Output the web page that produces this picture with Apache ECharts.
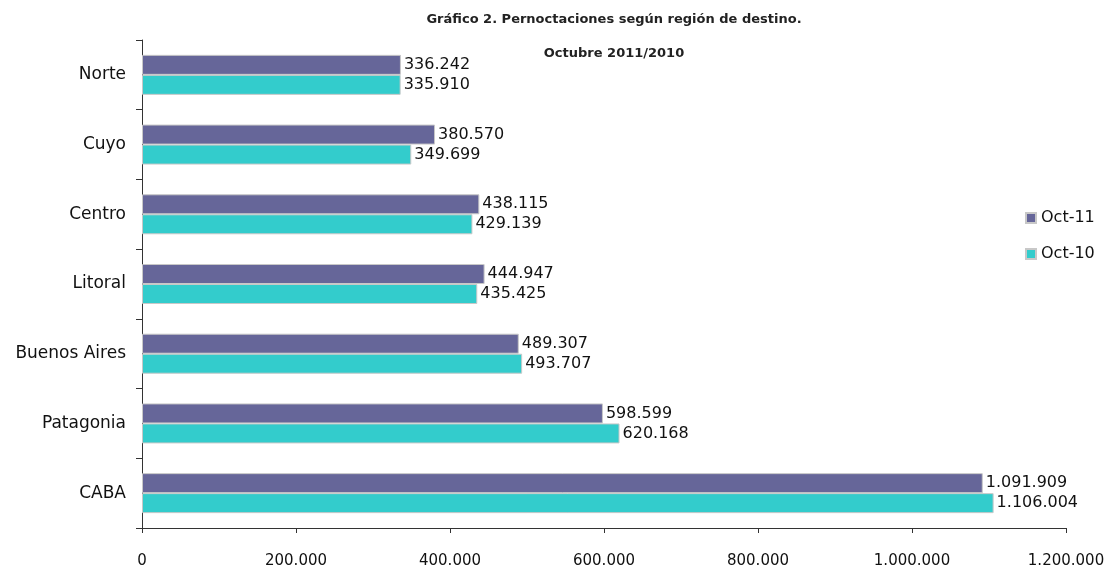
<!DOCTYPE html>
<html>
<head>
<meta charset="utf-8">
<script src="https://cdn.jsdelivr.net/npm/echarts@6/dist/echarts.min.js"></script>
<style>
  html, body { margin: 0; padding: 0; background: #fff; }
  #chart { width: 1109px; height: 574px; }
</style>
</head>
<body>
<div id="chart"></div>
<script>
// regiones, de abajo hacia arriba
const regiones = ['CABA', 'Patagonia', 'Buenos Aires', 'Litoral', 'Centro', 'Cuyo', 'Norte']
const oct11 = [1091909, 598599, 489307, 444947, 438115, 380570, 336242]
const oct10 = [1106004, 620168, 493707, 435425, 429139, 349699, 335910]
const xTicks = [0, 200000, 400000, 600000, 800000, 1000000, 1200000]

// separador de miles con punto
function fmt(v) {
  return String(v).replace(/\B(?=(\d{3})+(?!\d))/g, '.')
}

const chart = echarts.init(document.getElementById('chart'))
const font = 'DejaVu Sans'

const option = {
  animation: false,
  textStyle: { fontFamily: font },
  title: [
    {
      text: 'Gráfico 2. Pernoctaciones según región de destino.',
      left: 609, top: 8, textAlign: 'center',
      textStyle: { fontSize: 13, fontWeight: 'bold', color: '#222', fontFamily: font }
    },
    {
      text: 'Octubre 2011/2010',
      left: 609, top: 42, textAlign: 'center',
      textStyle: { fontSize: 13, fontWeight: 'bold', color: '#222', fontFamily: font }
    }
  ],
  legend: {
    data: ['Oct-11', 'Oct-10'],
    orient: 'vertical',
    left: 1020, top: 205,
    itemWidth: 10, itemHeight: 10, itemGap: 20,
    textStyle: { fontSize: 16, color: '#111', fontFamily: font },
    icon: 'rect'
  },
  grid: { left: 142, right: 43, top: 40, bottom: 46 },
  xAxis: {
    type: 'value',
    min: 0, max: 1200000, interval: 200000,
    axisLine: { show: true, lineStyle: { color: '#333' } },
    axisTick: { show: true, length: 5, lineStyle: { color: '#333' } },
    splitLine: { show: false },
    axisLabel: {
      margin: 26, fontSize: 15, color: '#111', fontFamily: font,
      formatter: v => xTicks.includes(v) ? fmt(v) : ''
    }
  },
  yAxis: {
    type: 'category',
    data: regiones,
    axisLine: { show: true, lineStyle: { color: '#333' } },
    axisTick: { show: true, length: 6, lineStyle: { color: '#333' } },
    axisLabel: { margin: 16, fontSize: 17, color: '#111', fontFamily: font }
  },
  series: [
    {
      name: 'Oct-11',
      type: 'bar',
      data: oct11,
      barWidth: 20,
      barGap: '0%',
      itemStyle: { color: '#666699', borderColor: '#c8c8c8', borderWidth: 1 },
      label: {
        show: true, position: 'right', distance: 3,
        fontSize: 16, color: '#111', fontFamily: font,
        formatter: p => fmt(p.value)
      }
    },
    {
      name: 'Oct-10',
      type: 'bar',
      data: oct10,
      barWidth: 20,
      barGap: '0%',
      itemStyle: { color: '#33CCCC', borderColor: '#c8c8c8', borderWidth: 1 },
      label: {
        show: true, position: 'right', distance: 3,
        fontSize: 16, color: '#111', fontFamily: font,
        formatter: p => fmt(p.value)
      }
    }
  ]
}

chart.setOption(option)
</script>
</body>
</html>
